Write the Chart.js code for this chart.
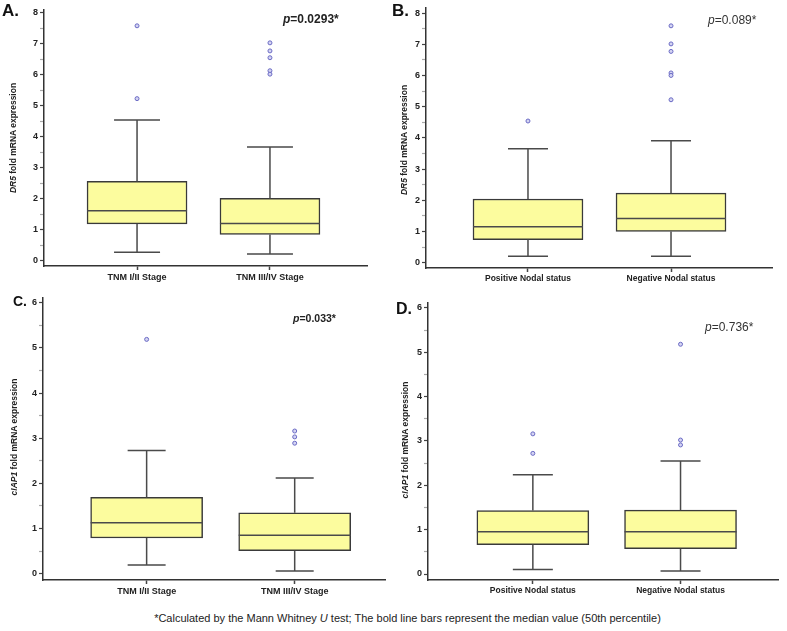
<!DOCTYPE html>
<html>
<head>
<meta charset="utf-8">
<script src="https://cdn.jsdelivr.net/npm/chart.js@4"></script>
<style>
  body { margin: 0; background: #fff; width: 787px; height: 631px; position: relative; overflow: hidden;
         font-family: "Liberation Sans", Arial, sans-serif; color: #222; }
  canvas { position: absolute; }
  .lbl { position: absolute; font-weight: bold; color: #111; }
  .pval { position: absolute; white-space: nowrap; color: #222; }
  .ytitle { position: absolute; white-space: nowrap; font-size: 8.5px; font-weight: bold; color: #222;
            transform: translate(-50%, -50%) rotate(-90deg); }
  .foot { position: absolute; left: 14px; width: 787px; top: 612px; text-align: center; font-size: 11px; color: #222; }
</style>
</head>
<body>
<canvas id="chartA"></canvas>
<canvas id="chartB"></canvas>
<canvas id="chartC"></canvas>
<canvas id="chartD"></canvas>

<div class="lbl" style="left:2px;top:1px;font-size:17px">A.</div>
<div class="lbl" style="left:392px;top:1px;font-size:17px">B.</div>
<div class="lbl" style="left:13px;top:293px;font-size:14px">C.</div>
<div class="lbl" style="left:396px;top:300px;font-size:16px">D.</div>

<div class="ytitle" style="left:13px;top:138px"><i>DR5</i> fold mRNA expression</div>
<div class="ytitle" style="left:404px;top:140px"><i>DR5</i> fold mRNA expression</div>
<div class="ytitle" style="left:14px;top:437px"><i>cIAP1</i> fold mRNA expression</div>
<div class="ytitle" style="left:405px;top:440px"><i>cIAP1</i> fold mRNA expression</div>

<div class="pval" style="left:283px;top:12px;font-size:12px;font-weight:bold"><i>p</i>=0.0293*</div>
<div class="pval" style="left:708px;top:13px;font-size:12px;color:#333"><i>p</i>=0.089*</div>
<div class="pval" style="left:293px;top:312px;font-size:10.5px;font-weight:bold"><i>p</i>=0.033*</div>
<div class="pval" style="left:705px;top:320px;font-size:12px;color:#333"><i>p</i>=0.736*</div>

<div class="foot">*Calculated by the Mann Whitney <i>U</i> test; The bold line bars represent the median value (50th percentile)</div>

<script>
// categories
const stageCats = ['TNM I/II Stage', 'TNM III/IV Stage'];
const nodalCats = ['Positive Nodal status', 'Negative Nodal status'];

// box stats per group: [low whisker, Q1, median, Q3, high whisker]
const dr5Stage = [[0.27, 1.19, 1.61, 2.56, 4.54], [0.22, 0.85, 1.20, 2.01, 3.67]];
const dr5Nodal = [[0.21, 0.74, 1.15, 2.04, 3.65], [0.21, 1.00, 1.42, 2.23, 3.91]];
const ciapStage = [[0.19, 0.79, 1.13, 1.69, 2.73], [0.06, 0.51, 0.85, 1.35, 2.12]];
const ciapNodal = [[0.10, 0.66, 0.95, 1.43, 2.24], [0.07, 0.57, 0.95, 1.44, 2.55]];

// outliers per group
const dr5StageOut = [[7.58, 5.23], [7.03, 6.77, 6.55, 6.13, 6.02]];
const dr5NodalOut = [[4.54], [7.59, 7.01, 6.77, 6.08, 6.00, 5.22]];
const ciapStageOut = [[5.19], [3.16, 3.03, 2.89]];
const ciapNodalOut = [[3.16, 2.72], [5.18, 3.02, 2.91]];

// y tick labels (with half steps as minor ticks)
const dr5Ticks = [0, 0.5, 1, 1.5, 2, 2.5, 3, 3.5, 4, 4.5, 5, 5.5, 6, 6.5, 7, 7.5, 8];
const ciapTicks = [0, 0.5, 1, 1.5, 2, 2.5, 3, 3.5, 4, 4.5, 5, 5.5, 6];

// whiskers, caps and median drawn through the chart scales
const whiskerPlugin = {
  id: 'whiskers',
  afterDatasetsDraw(chart, args, opts) {
    const { ctx, scales: { x, y } } = chart;
    ctx.save();
    ctx.strokeStyle = '#4a4a4a';
    ctx.lineWidth = 1.5;
    opts.stats.forEach((s, i) => {
      const cx = x.getPixelForValue(i + 1);
      const [lo, q1, med, q3, hi] = s.map(v => y.getPixelForValue(v));
      const c = opts.capW / 2, b = opts.boxW / 2;
      ctx.beginPath();
      ctx.moveTo(cx, q3); ctx.lineTo(cx, hi);
      ctx.moveTo(cx, q1); ctx.lineTo(cx, lo);
      ctx.moveTo(cx - c, hi); ctx.lineTo(cx + c, hi);
      ctx.moveTo(cx - c, lo); ctx.lineTo(cx + c, lo);
      ctx.moveTo(cx - b, med); ctx.lineTo(cx + b, med);
      ctx.stroke();
    });
    ctx.restore();
  }
};

function makeBox(p) {
  const el = document.getElementById(p.id);
  el.style.left = p.left + 'px';
  el.style.top = p.top + 'px';
  el.width = p.w;
  el.height = p.h;
  el.style.width = p.w + 'px';
  el.style.height = p.h + 'px';

  const outPts = [];
  p.outliers.forEach((arr, i) => arr.forEach(v => outPts.push({ x: i + 1, y: v })));

  return new Chart(el, {
    type: 'bar',
    data: {
      datasets: [{
        type: 'bar',
        data: p.stats.map((s, i) => ({ x: i + 1, y: [s[1], s[3]] })),
        backgroundColor: '#fcfc9e',
        borderColor: '#3a3a3a',
        borderWidth: 1.5,
        borderSkipped: false,
        barThickness: p.boxW
      }, {
        type: 'scatter',
        data: outPts,
        pointRadius: 2,
        pointBorderWidth: 1,
        pointBorderColor: '#6a6ac4',
        pointBackgroundColor: '#d4d4f2'
      }]
    },
    options: {
      responsive: false,
      animation: false,
      layout: { padding: { top: p.padTop, right: p.padRight, left: 0, bottom: 0 } },
      plugins: {
        legend: { display: false },
        tooltip: { enabled: false },
        whiskers: { stats: p.stats, boxW: p.boxW, capW: p.capW }
      },
      scales: {
        x: {
          type: 'linear',
          offset: false,
          min: p.xMin, max: p.xMax,
          afterBuildTicks: s => { s.ticks = p.cats.map((c, i) => ({ value: i + 1 })); },
          afterFit: s => { s.height = p.xH; },
          ticks: {
            callback: v => p.cats[v - 1],
            font: { family: 'Liberation Sans', size: p.catSize, weight: 'bold' },
            color: '#222', padding: 2, maxRotation: 0, autoSkip: false
          },
          grid: { offset: false, drawOnChartArea: false, tickLength: 4, tickColor: '#444', tickWidth: 1.5 },
          border: { color: '#333', width: 1.5 }
        },
        y: {
          type: 'linear',
          min: p.yMin, max: p.yMax,
          afterBuildTicks: s => { s.ticks = p.ticks.map(v => ({ value: v })); },
          afterFit: s => { s.width = p.yW; },
          ticks: {
            callback: v => Number.isInteger(v) ? v : '',
            font: { family: 'Liberation Sans', size: 9, weight: 'bold' },
            color: '#222', padding: 2, autoSkip: false
          },
          grid: {
            drawOnChartArea: false, tickLength: 4,
            tickColor: c => Number.isInteger(c.tick.value) ? '#444' : '#aaa',
            tickWidth: 1.2
          },
          border: { color: '#333', width: 1.5 }
        }
      }
    },
    plugins: [whiskerPlugin]
  });
}

makeBox({ id: 'chartA', left: 0, top: 0, w: 390, h: 290, padTop: 10, padRight: 23, yW: 44, xH: 24,
  xMin: 0.30, xMax: 2.73, yMin: -0.17, yMax: 8.09, boxW: 100, capW: 46, catSize: 9,
  cats: stageCats, stats: dr5Stage, outliers: dr5StageOut, ticks: dr5Ticks });

makeBox({ id: 'chartB', left: 390, top: 0, w: 397, h: 290, padTop: 7, padRight: 15, yW: 36, xH: 22,
  xMin: 0.287, xMax: 2.706, yMin: -0.17, yMax: 8.18, boxW: 110, capW: 40, catSize: 8.5,
  cats: nodalCats, stats: dr5Nodal, outliers: dr5NodalOut, ticks: dr5Ticks });

makeBox({ id: 'chartC', left: 0, top: 290, w: 390, h: 310, padTop: 5, padRight: 2, yW: 43, xH: 20,
  xMin: 0.30, xMax: 2.61, yMin: -0.14, yMax: 6.12, boxW: 112, capW: 38, catSize: 9,
  cats: stageCats, stats: ciapStage, outliers: ciapStageOut, ticks: ciapTicks });

makeBox({ id: 'chartD', left: 390, top: 290, w: 397, h: 310, padTop: 13, padRight: 9, yW: 38, xH: 20,
  xMin: 0.29, xMax: 2.66, yMin: -0.135, yMax: 6.11, boxW: 112, capW: 40, catSize: 8.5,
  cats: nodalCats, stats: ciapNodal, outliers: ciapNodalOut, ticks: ciapTicks });
</script>
</body>
</html>
